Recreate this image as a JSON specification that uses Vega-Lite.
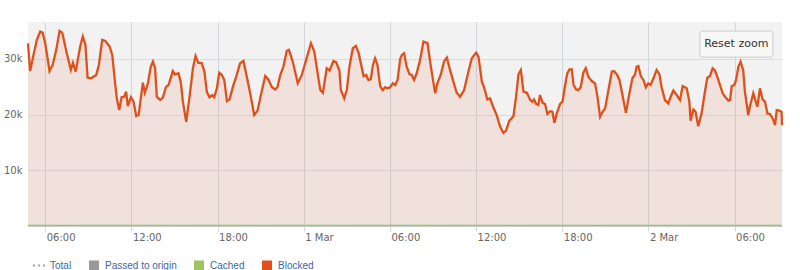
{
  "$schema": "https://vega.github.io/schema/vega-lite/v6.json",
  "width": 754,
  "height": 204,
  "autosize": {"type": "none"},
  "padding": {"left": 28, "top": 22, "right": 18, "bottom": 44},
  "background": "#ffffff",
  "config": {
    "view": {"fill": "#f2f2f2", "stroke": null},
    "axis": {"labelFont": "DejaVu Sans", "labelFontSize": 10, "labelColor": "#666666", "gridColor": "#d6dbe1", "gridOpacity": 1, "gridWidth": 1, "title": null}
  },
  "datasets": {
    "blocked": [
      {"t": "2023-02-28T04:48", "v": 32750}, {"t": "2023-02-28T04:57", "v": 27800}, {"t": "2023-02-28T05:11", "v": 30700}, {"t": "2023-02-28T05:25", "v": 33400},
      {"t": "2023-02-28T05:39", "v": 34900}, {"t": "2023-02-28T05:49", "v": 34700}, {"t": "2023-02-28T06:00", "v": 32800}, {"t": "2023-02-28T06:18", "v": 27800},
      {"t": "2023-02-28T06:31", "v": 28900}, {"t": "2023-02-28T06:46", "v": 31600}, {"t": "2023-02-28T07:00", "v": 35000}, {"t": "2023-02-28T07:11", "v": 34700},
      {"t": "2023-02-28T07:30", "v": 31000}, {"t": "2023-02-28T07:47", "v": 28000}, {"t": "2023-02-28T07:56", "v": 29300}, {"t": "2023-02-28T08:07", "v": 27700},
      {"t": "2023-02-28T08:26", "v": 32200}, {"t": "2023-02-28T08:37", "v": 34000}, {"t": "2023-02-28T08:48", "v": 32500}, {"t": "2023-02-28T08:57", "v": 26600},
      {"t": "2023-02-28T09:11", "v": 26500}, {"t": "2023-02-28T09:33", "v": 27100}, {"t": "2023-02-28T09:44", "v": 28900}, {"t": "2023-02-28T09:58", "v": 33400},
      {"t": "2023-02-28T10:11", "v": 33200}, {"t": "2023-02-28T10:29", "v": 32200}, {"t": "2023-02-28T10:40", "v": 30700}, {"t": "2023-02-28T10:52", "v": 25600},
      {"t": "2023-02-28T10:59", "v": 22900}, {"t": "2023-02-28T11:09", "v": 20800}, {"t": "2023-02-28T11:19", "v": 23100}, {"t": "2023-02-28T11:30", "v": 23200},
      {"t": "2023-02-28T11:38", "v": 24100}, {"t": "2023-02-28T11:45", "v": 21500}, {"t": "2023-02-28T11:58", "v": 23100}, {"t": "2023-02-28T12:09", "v": 22300},
      {"t": "2023-02-28T12:20", "v": 19700}, {"t": "2023-02-28T12:30", "v": 19900}, {"t": "2023-02-28T12:48", "v": 25700}, {"t": "2023-02-28T12:56", "v": 23900},
      {"t": "2023-02-28T13:09", "v": 25600}, {"t": "2023-02-28T13:21", "v": 28600}, {"t": "2023-02-28T13:30", "v": 29500}, {"t": "2023-02-28T13:39", "v": 28300},
      {"t": "2023-02-28T13:46", "v": 23200}, {"t": "2023-02-28T14:00", "v": 22600}, {"t": "2023-02-28T14:11", "v": 23000}, {"t": "2023-02-28T14:24", "v": 24900},
      {"t": "2023-02-28T14:35", "v": 25300}, {"t": "2023-02-28T14:49", "v": 27200}, {"t": "2023-02-28T14:53", "v": 27800}, {"t": "2023-02-28T15:02", "v": 27200},
      {"t": "2023-02-28T15:17", "v": 27400}, {"t": "2023-02-28T15:27", "v": 25600}, {"t": "2023-02-28T15:35", "v": 22300}, {"t": "2023-02-28T15:49", "v": 18700},
      {"t": "2023-02-28T16:03", "v": 23200}, {"t": "2023-02-28T16:17", "v": 28300}, {"t": "2023-02-28T16:28", "v": 30500}, {"t": "2023-02-28T16:39", "v": 29300},
      {"t": "2023-02-28T16:54", "v": 29200}, {"t": "2023-02-28T17:05", "v": 27700}, {"t": "2023-02-28T17:15", "v": 24100}, {"t": "2023-02-28T17:26", "v": 23100},
      {"t": "2023-02-28T17:38", "v": 23500}, {"t": "2023-02-28T17:46", "v": 23100}, {"t": "2023-02-28T17:57", "v": 24700}, {"t": "2023-02-28T18:07", "v": 27500},
      {"t": "2023-02-28T18:18", "v": 27100}, {"t": "2023-02-28T18:28", "v": 26200}, {"t": "2023-02-28T18:39", "v": 22400}, {"t": "2023-02-28T18:50", "v": 22700},
      {"t": "2023-02-28T19:04", "v": 25000}, {"t": "2023-02-28T19:18", "v": 26800}, {"t": "2023-02-28T19:34", "v": 29200}, {"t": "2023-02-28T19:48", "v": 29600},
      {"t": "2023-02-28T20:05", "v": 26200}, {"t": "2023-02-28T20:19", "v": 23200}, {"t": "2023-02-28T20:33", "v": 19900}, {"t": "2023-02-28T20:47", "v": 20700},
      {"t": "2023-02-28T21:01", "v": 23500}, {"t": "2023-02-28T21:19", "v": 26900}, {"t": "2023-02-28T21:33", "v": 26200}, {"t": "2023-02-28T21:47", "v": 24900},
      {"t": "2023-02-28T22:01", "v": 24500}, {"t": "2023-02-28T22:10", "v": 24900}, {"t": "2023-02-28T22:22", "v": 27100}, {"t": "2023-02-28T22:35", "v": 28600},
      {"t": "2023-02-28T22:49", "v": 31400}, {"t": "2023-02-28T22:58", "v": 31600}, {"t": "2023-02-28T23:14", "v": 29500}, {"t": "2023-02-28T23:35", "v": 25600},
      {"t": "2023-02-28T23:52", "v": 27100},
      {"t": "2023-03-01T00:10", "v": 29800}, {"t": "2023-03-01T00:30", "v": 32800}, {"t": "2023-03-01T00:44", "v": 31300}, {"t": "2023-03-01T00:57", "v": 27700},
      {"t": "2023-03-01T01:09", "v": 24400}, {"t": "2023-03-01T01:20", "v": 23900}, {"t": "2023-03-01T01:36", "v": 28300}, {"t": "2023-03-01T01:48", "v": 27900},
      {"t": "2023-03-01T02:04", "v": 29600}, {"t": "2023-03-01T02:15", "v": 29400}, {"t": "2023-03-01T02:29", "v": 27900}, {"t": "2023-03-01T02:35", "v": 24400},
      {"t": "2023-03-01T02:49", "v": 22900}, {"t": "2023-03-01T03:00", "v": 24400}, {"t": "2023-03-01T03:11", "v": 28600}, {"t": "2023-03-01T03:25", "v": 31900},
      {"t": "2023-03-01T03:38", "v": 32300}, {"t": "2023-03-01T03:49", "v": 31100}, {"t": "2023-03-01T04:10", "v": 26900}, {"t": "2023-03-01T04:21", "v": 27100},
      {"t": "2023-03-01T04:30", "v": 26200}, {"t": "2023-03-01T04:40", "v": 26300}, {"t": "2023-03-01T04:49", "v": 28900}, {"t": "2023-03-01T04:58", "v": 30100},
      {"t": "2023-03-01T05:08", "v": 28900}, {"t": "2023-03-01T05:19", "v": 25100}, {"t": "2023-03-01T05:30", "v": 24400}, {"t": "2023-03-01T05:40", "v": 24900},
      {"t": "2023-03-01T05:50", "v": 24700}, {"t": "2023-03-01T06:01", "v": 24900}, {"t": "2023-03-01T06:12", "v": 25600}, {"t": "2023-03-01T06:22", "v": 25300},
      {"t": "2023-03-01T06:32", "v": 26200}, {"t": "2023-03-01T06:43", "v": 30000}, {"t": "2023-03-01T06:50", "v": 30700}, {"t": "2023-03-01T06:59", "v": 31000},
      {"t": "2023-03-01T07:10", "v": 28600}, {"t": "2023-03-01T07:22", "v": 27200}, {"t": "2023-03-01T07:31", "v": 27100}, {"t": "2023-03-01T07:41", "v": 26200},
      {"t": "2023-03-01T07:52", "v": 27400}, {"t": "2023-03-01T08:06", "v": 29800}, {"t": "2023-03-01T08:20", "v": 33100}, {"t": "2023-03-01T08:37", "v": 32800},
      {"t": "2023-03-01T08:51", "v": 28600}, {"t": "2023-03-01T09:09", "v": 23800}, {"t": "2023-03-01T09:19", "v": 25700}, {"t": "2023-03-01T09:32", "v": 27100},
      {"t": "2023-03-01T09:46", "v": 29500}, {"t": "2023-03-01T09:58", "v": 30200}, {"t": "2023-03-01T10:11", "v": 28000}, {"t": "2023-03-01T10:25", "v": 25900},
      {"t": "2023-03-01T10:39", "v": 23900}, {"t": "2023-03-01T10:53", "v": 23200}, {"t": "2023-03-01T11:10", "v": 24400}, {"t": "2023-03-01T11:28", "v": 27700},
      {"t": "2023-03-01T11:42", "v": 30100}, {"t": "2023-03-01T12:00", "v": 31100}, {"t": "2023-03-01T12:10", "v": 30400}, {"t": "2023-03-01T12:24", "v": 25900},
      {"t": "2023-03-01T12:33", "v": 24900}, {"t": "2023-03-01T12:47", "v": 22700}, {"t": "2023-03-01T12:58", "v": 22900}, {"t": "2023-03-01T13:12", "v": 21300},
      {"t": "2023-03-01T13:26", "v": 19900}, {"t": "2023-03-01T13:40", "v": 17900}, {"t": "2023-03-01T13:54", "v": 16700}, {"t": "2023-03-01T14:05", "v": 17100},
      {"t": "2023-03-01T14:19", "v": 18900}, {"t": "2023-03-01T14:36", "v": 19700}, {"t": "2023-03-01T14:47", "v": 23200}, {"t": "2023-03-01T14:57", "v": 27200},
      {"t": "2023-03-01T15:07", "v": 28000}, {"t": "2023-03-01T15:18", "v": 24100}, {"t": "2023-03-01T15:32", "v": 23900}, {"t": "2023-03-01T15:46", "v": 22600},
      {"t": "2023-03-01T15:55", "v": 22300}, {"t": "2023-03-01T16:02", "v": 22700}, {"t": "2023-03-01T16:11", "v": 21900}, {"t": "2023-03-01T16:20", "v": 21700},
      {"t": "2023-03-01T16:27", "v": 23500}, {"t": "2023-03-01T16:38", "v": 22100}, {"t": "2023-03-01T16:48", "v": 21900}, {"t": "2023-03-01T16:58", "v": 20100},
      {"t": "2023-03-01T17:09", "v": 20600}, {"t": "2023-03-01T17:19", "v": 20500}, {"t": "2023-03-01T17:27", "v": 18500}, {"t": "2023-03-01T17:37", "v": 20200},
      {"t": "2023-03-01T17:51", "v": 21900}, {"t": "2023-03-01T18:01", "v": 22300}, {"t": "2023-03-01T18:12", "v": 25300}, {"t": "2023-03-01T18:21", "v": 27400},
      {"t": "2023-03-01T18:30", "v": 28100}, {"t": "2023-03-01T18:40", "v": 28100}, {"t": "2023-03-01T18:47", "v": 25300}, {"t": "2023-03-01T18:58", "v": 24500},
      {"t": "2023-03-01T19:07", "v": 24400}, {"t": "2023-03-01T19:17", "v": 24900}, {"t": "2023-03-01T19:28", "v": 27500}, {"t": "2023-03-01T19:38", "v": 28300},
      {"t": "2023-03-01T19:49", "v": 26800}, {"t": "2023-03-01T20:03", "v": 26000}, {"t": "2023-03-01T20:17", "v": 25600}, {"t": "2023-03-01T20:27", "v": 23200},
      {"t": "2023-03-01T20:38", "v": 19600}, {"t": "2023-03-01T20:49", "v": 20500}, {"t": "2023-03-01T20:59", "v": 21100}, {"t": "2023-03-01T21:13", "v": 24400},
      {"t": "2023-03-01T21:27", "v": 27700}, {"t": "2023-03-01T21:36", "v": 27800}, {"t": "2023-03-01T21:48", "v": 27200}, {"t": "2023-03-01T21:59", "v": 26200},
      {"t": "2023-03-01T22:13", "v": 23200}, {"t": "2023-03-01T22:26", "v": 20300}, {"t": "2023-03-01T22:40", "v": 23700}, {"t": "2023-03-01T22:53", "v": 26500},
      {"t": "2023-03-01T23:04", "v": 27200}, {"t": "2023-03-01T23:11", "v": 28600}, {"t": "2023-03-01T23:18", "v": 28700}, {"t": "2023-03-01T23:28", "v": 26900},
      {"t": "2023-03-01T23:39", "v": 26200}, {"t": "2023-03-01T23:49", "v": 24900}, {"t": "2023-03-01T23:59", "v": 25600},
      {"t": "2023-03-02T00:09", "v": 25300}, {"t": "2023-03-02T00:21", "v": 26500}, {"t": "2023-03-02T00:34", "v": 28000}, {"t": "2023-03-02T00:46", "v": 27200},
      {"t": "2023-03-02T00:55", "v": 24900}, {"t": "2023-03-02T01:09", "v": 22600}, {"t": "2023-03-02T01:23", "v": 22000}, {"t": "2023-03-02T01:33", "v": 23200},
      {"t": "2023-03-02T01:44", "v": 24300}, {"t": "2023-03-02T01:58", "v": 23500}, {"t": "2023-03-02T02:12", "v": 22600}, {"t": "2023-03-02T02:23", "v": 25100},
      {"t": "2023-03-02T02:40", "v": 24700}, {"t": "2023-03-02T02:51", "v": 22300}, {"t": "2023-03-02T02:56", "v": 18900}, {"t": "2023-03-02T03:08", "v": 20900},
      {"t": "2023-03-02T03:17", "v": 20500}, {"t": "2023-03-02T03:28", "v": 17900}, {"t": "2023-03-02T03:42", "v": 20200}, {"t": "2023-03-02T03:56", "v": 24100},
      {"t": "2023-03-02T04:06", "v": 26600}, {"t": "2023-03-02T04:17", "v": 26900}, {"t": "2023-03-02T04:28", "v": 28300}, {"t": "2023-03-02T04:38", "v": 27900},
      {"t": "2023-03-02T04:52", "v": 26200}, {"t": "2023-03-02T05:10", "v": 23800}, {"t": "2023-03-02T05:20", "v": 23200}, {"t": "2023-03-02T05:34", "v": 22500},
      {"t": "2023-03-02T05:41", "v": 22600}, {"t": "2023-03-02T05:48", "v": 25100}, {"t": "2023-03-02T05:59", "v": 25300}, {"t": "2023-03-02T06:06", "v": 26200},
      {"t": "2023-03-02T06:16", "v": 28600}, {"t": "2023-03-02T06:25", "v": 29500}, {"t": "2023-03-02T06:36", "v": 27900}, {"t": "2023-03-02T06:43", "v": 24100},
      {"t": "2023-03-02T06:57", "v": 19900}, {"t": "2023-03-02T07:04", "v": 21500}, {"t": "2023-03-02T07:18", "v": 23800}, {"t": "2023-03-02T07:35", "v": 21400},
      {"t": "2023-03-02T07:46", "v": 24700}, {"t": "2023-03-02T07:57", "v": 22700}, {"t": "2023-03-02T08:07", "v": 22300}, {"t": "2023-03-02T08:17", "v": 20200},
      {"t": "2023-03-02T08:28", "v": 20100}, {"t": "2023-03-02T08:39", "v": 19300}, {"t": "2023-03-02T08:49", "v": 18100}, {"t": "2023-03-02T08:56", "v": 20800},
      {"t": "2023-03-02T09:07", "v": 20700}, {"t": "2023-03-02T09:16", "v": 20500}, {"t": "2023-03-02T09:18", "v": 18100}
    ],
    "cached": [
      {"t": "2023-02-28T04:48", "v": 90}, {"t": "2023-02-28T12:00", "v": 100}, {"t": "2023-02-28T18:00", "v": 90},
      {"t": "2023-03-01T00:00", "v": 100}, {"t": "2023-03-01T12:00", "v": 90}, {"t": "2023-03-02T00:00", "v": 100}, {"t": "2023-03-02T09:18", "v": 90}
    ],
    "button": [{"label": "Reset zoom"}]
  },
  "layer": [
    {
      "data": {"name": "blocked"},
      "mark": {"type": "area", "fill": "#e0501b", "fillOpacity": 0.1},
      "encoding": {
        "x": {
          "field": "t", "type": "temporal",
          "scale": {"domain": ["2023-02-28T04:48", "2023-03-02T09:18"], "nice": false},
          "axis": {
            "values": ["2023-02-28T06:00", "2023-02-28T12:00", "2023-02-28T18:00", "2023-03-01T00:00", "2023-03-01T06:00", "2023-03-01T12:00", "2023-03-01T18:00", "2023-03-02T00:00", "2023-03-02T06:00"],
            "labelExpr": "hours(datum.value) == 0 ? timeFormat(datum.value, '%-d %b') : timeFormat(datum.value, '%H:%M')",
            "labelAlign": "left", "labelOffset": 1, "labelPadding": 1, "labelFlush": false, "labelOverlap": false,
            "domain": true, "domainColor": "#ccd6eb", "ticks": true, "tickSize": 5, "tickColor": "#ccd6eb",
            "grid": true, "gridColor": "#cfd6de"
          }
        },
        "y": {
          "field": "v", "type": "quantitative",
          "scale": {"domain": [0, 36600], "nice": false},
          "axis": {
            "values": [0, 10000, 20000, 30000],
            "labelExpr": "datum.value == 0 ? '' : format(datum.value / 1000, 'd') + 'k'",
            "domain": false, "ticks": false, "labelPadding": 6, "grid": true, "gridColor": "#d8dde3"
          }
        }
      }
    },
    {
      "data": {"name": "cached"},
      "mark": {"type": "line", "strokeWidth": 1.5},
      "encoding": {
        "x": {"field": "t", "type": "temporal"},
        "y": {"field": "v", "type": "quantitative"},
        "color": {"datum": "Cached", "type": "nominal"}
      }
    },
    {
      "data": {"name": "blocked"},
      "mark": {"type": "line", "strokeWidth": 2.3},
      "encoding": {
        "x": {"field": "t", "type": "temporal"},
        "y": {"field": "v", "type": "quantitative"},
        "color": {
          "datum": "Blocked", "type": "nominal",
          "scale": {"domain": ["Total", "Passed to origin", "Cached", "Blocked"], "range": ["#999999", "#999999", "#9dc45f", "#e0501b"]},
          "legend": {
            "title": null, "orient": "none", "legendX": 6, "legendY": 238.5, "direction": "horizontal",
            "labelFont": "Liberation Sans", "labelFontSize": 10, "labelColor": "#3c68a8",
            "symbolType": "square", "symbolSize": 100, "symbolOpacity": 1, "labelOffset": 6, "columnPadding": 17,
            "encode": {
              "symbols": {
                "update": {
                  "shape": {"signal": "datum.value === 'Total' ? 'M-1.2,0H-0.84M-0.18,0H0.18M0.84,0H1.2' : 'square'"},
                  "fill": {"signal": "datum.value === 'Total' ? 'transparent' : (datum.value === 'Cached' ? '#9dc45f' : (datum.value === 'Blocked' ? '#e0501b' : '#999999'))"},
                  "strokeWidth": {"signal": "datum.value === 'Total' ? 1.8 : 0"}
                }
              }
            }
          }
        }
      }
    },
    {
      "data": {"name": "button"},
      "mark": {"type": "rect", "fill": "#f7f7f7", "stroke": "#cccccc", "strokeWidth": 1, "cornerRadius": 2},
      "encoding": {
        "x": {"datum": {"year": 2023, "month": 3, "date": 2, "hours": 3, "minutes": 35}, "type": "temporal"},
        "x2": {"datum": {"year": 2023, "month": 3, "date": 2, "hours": 8, "minutes": 40}},
        "y": {"datum": 34970, "type": "quantitative"},
        "y2": {"datum": 30300}
      }
    },
    {
      "data": {"name": "button"},
      "mark": {"type": "text", "font": "DejaVu Sans", "fontSize": 11, "color": "#333333", "align": "center", "baseline": "middle"},
      "encoding": {
        "text": {"field": "label"},
        "x": {"datum": {"year": 2023, "month": 3, "date": 2, "hours": 6, "minutes": 7}, "type": "temporal"},
        "y": {"datum": 32600, "type": "quantitative"}
      }
    }
  ]
}
